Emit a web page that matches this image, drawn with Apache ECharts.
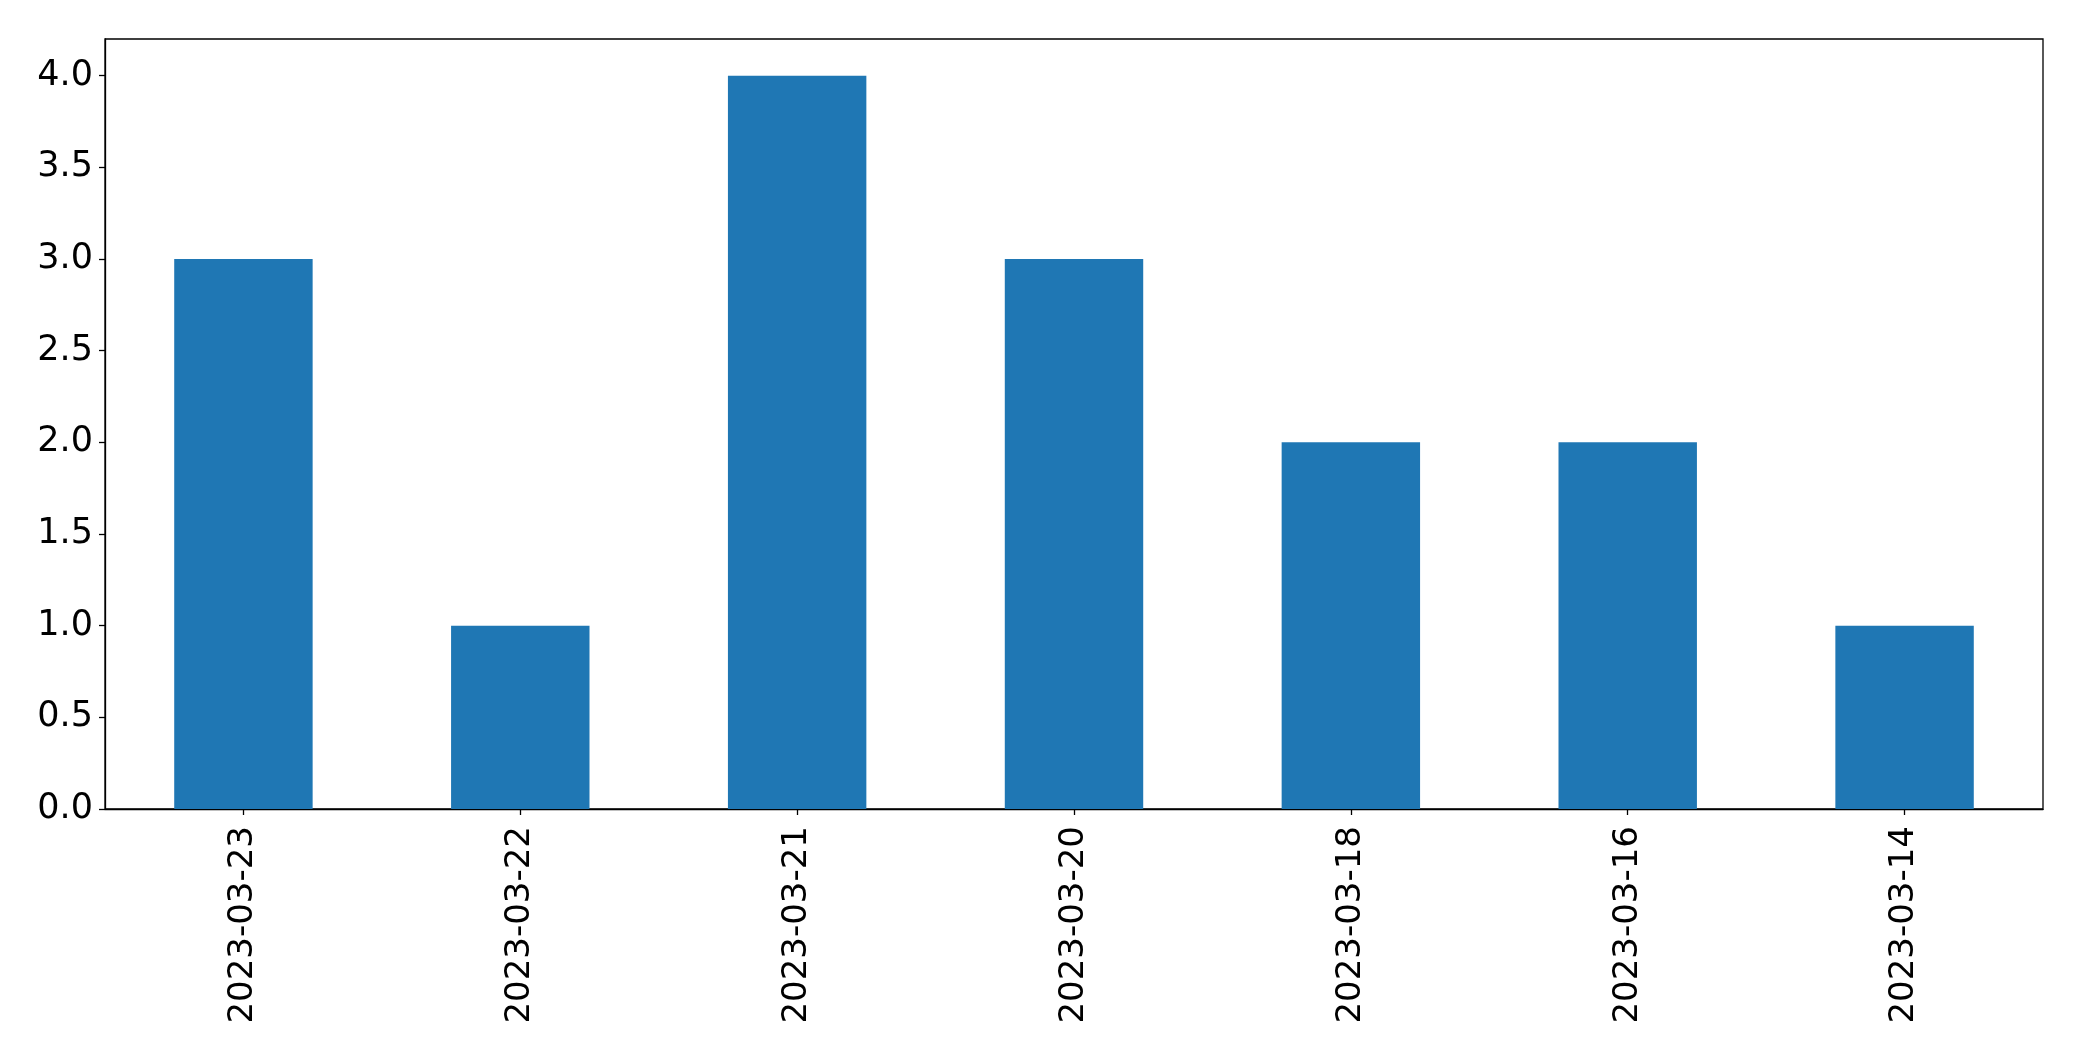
<!DOCTYPE html>
<html>
<head>
<meta charset="utf-8">
<script src="https://cdn.jsdelivr.net/npm/echarts@6/dist/echarts.min.js"></script>
<style>
html,body{margin:0;padding:0;background:#fff;}
#chart{width:2082px;height:1061px;}
</style>
</head>
<body>
<div id="chart"></div>
<script>
const categories = ['2023-03-23','2023-03-22','2023-03-21','2023-03-20','2023-03-18','2023-03-16','2023-03-14'];
const values = [3, 1, 4, 3, 2, 2, 1];
const yTicks = [0, 0.5, 1, 1.5, 2, 2.5, 3, 3.5, 4];

const chart = echarts.init(document.getElementById('chart'), null, {renderer: 'canvas'});
const font = 'DejaVu Sans';
chart.setOption({
  animation: false,
  grid: {left: 105, right: 39, top: 39, bottom: 252, show: true, borderColor: '#000', borderWidth: 1.3, backgroundColor: 'transparent'},
  xAxis: {
    type: 'category',
    data: categories,
    axisLine: {show: true, lineStyle: {color: '#000', width: 1.3}},
    axisTick: {show: true, alignWithLabel: true, length: 6, lineStyle: {color: '#000', width: 1.3}},
    axisLabel: {rotate: 90, margin: 17, fontSize: 34, fontFamily: font, color: '#000', interval: 0},
    splitLine: {show: false}
  },
  yAxis: {
    type: 'value',
    min: 0,
    max: 4.2,
    axisLine: {show: true, lineStyle: {color: '#000', width: 1.3}},
    axisTick: {show: true, length: 6, lineStyle: {color: '#000', width: 1.3}, customValues: yTicks},
    axisLabel: {margin: 12, fontSize: 35, fontFamily: font, color: '#000', customValues: yTicks,
      formatter: v => v.toFixed(1), padding: [8, 0, 0, 0]},
    splitLine: {show: false}
  },
  series: [{
    type: 'bar',
    data: values,
    barWidth: '50%',
    itemStyle: {color: '#1f77b4'}
  }]
});
</script>
</body>
</html>
